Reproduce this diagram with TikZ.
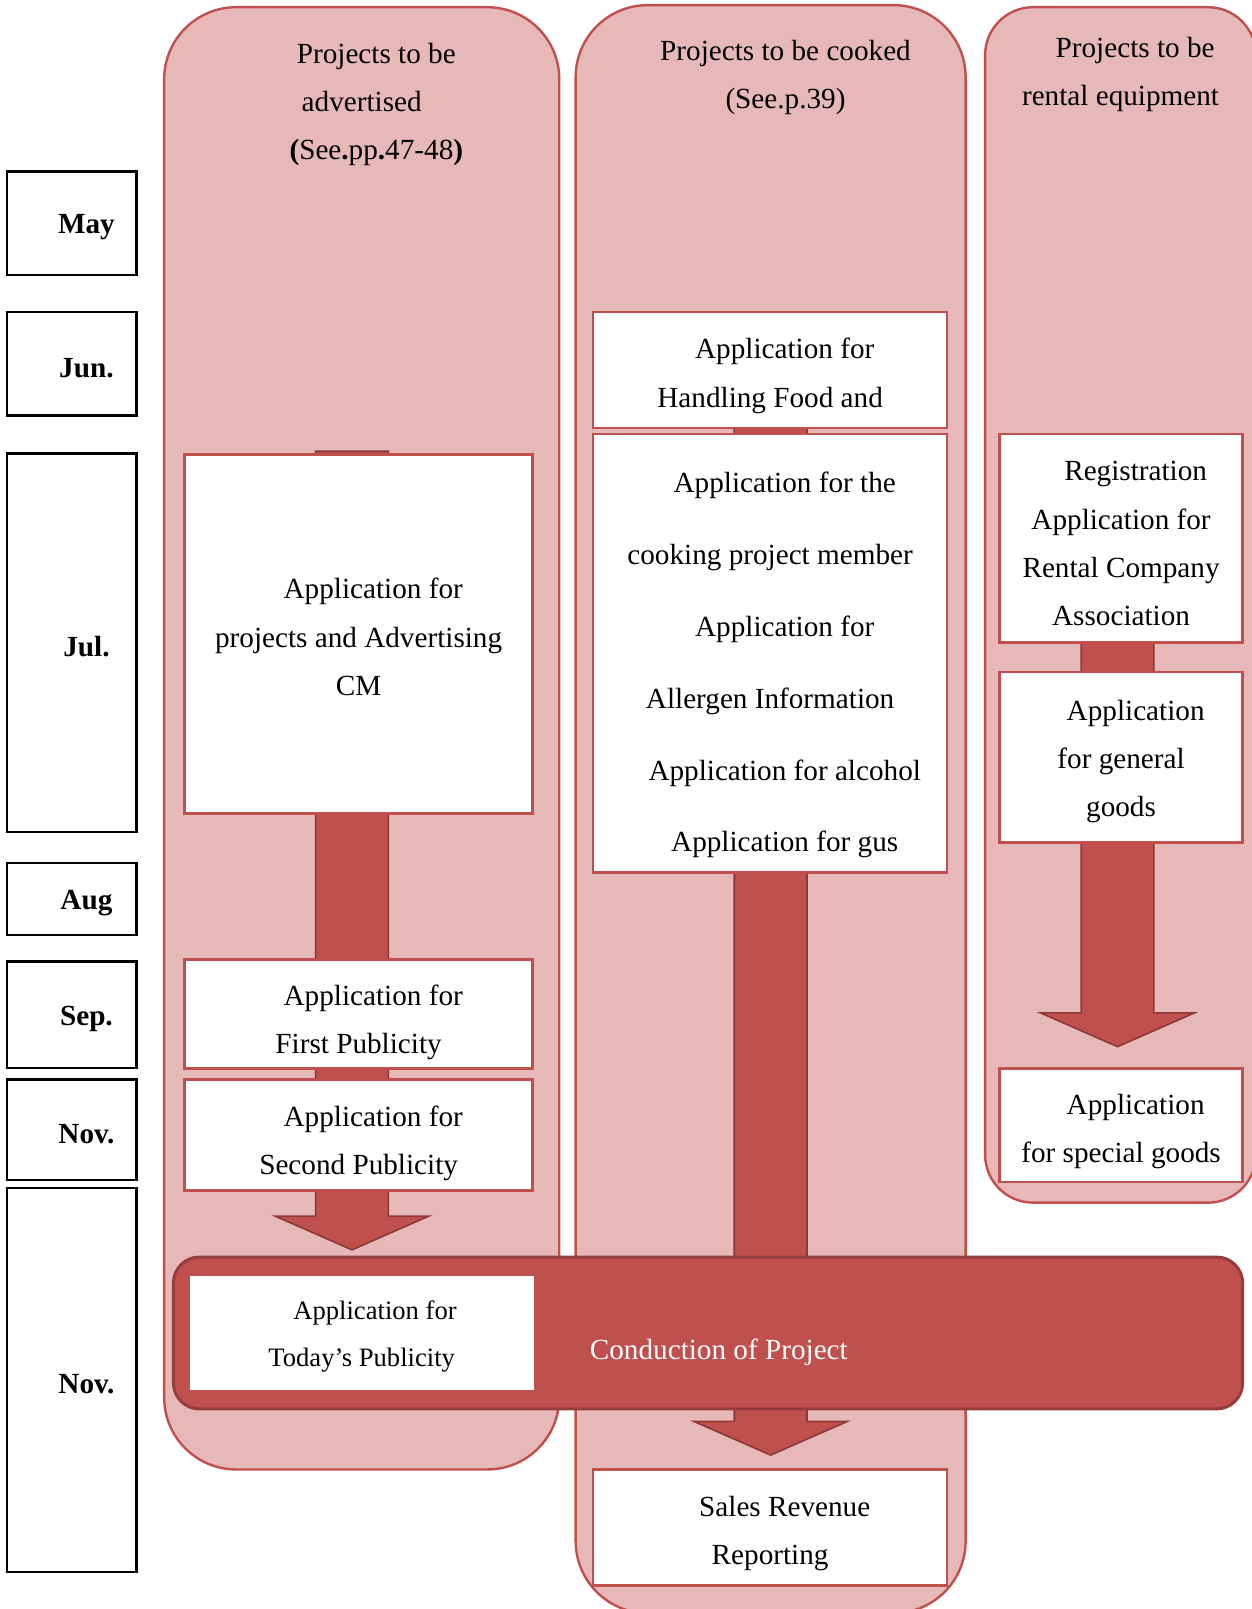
\documentclass[tikz,border=0pt]{standalone}
\usepackage{fontspec}
\setmainfont{Liberation Serif}
\usepackage{tikz}
\usetikzlibrary{positioning, calc, backgrounds}

\definecolor{lanepink}{HTML}{E6B9B8}
\definecolor{darkred}{HTML}{C0504D}
\definecolor{edgered}{HTML}{8C3836}

\newcommand{\bigarrow}[2]{%
  \draw[blockarrow] let \p1=#1, \p2=#2 in
    (\x2-18.2pt,\y1) -- (\x2-18.2pt,\y2+16.9pt) -- (\x2-38.5pt,\y2+16.9pt)
    -- (\x2,\y2) -- (\x2+38.5pt,\y2+16.9pt) -- (\x2+18.2pt,\y2+16.9pt)
    -- (\x2+18.2pt,\y1) -- cycle;}
\newcommand{\firstline}[1]{\rule{0pt}{#1}\hspace*{1em}}

\begin{document}
\begin{tikzpicture}[x=0.5131pt, y=-0.5131pt,
  every node/.style={font=\fontsize{14.6}{24.1}\selectfont},
  size/.style 2 args={minimum width=#1*0.5131pt, minimum height=#2*0.5131pt},
  monthbox/.style={draw=black, line width=1.2pt, fill=white, inner sep=0pt,
    font=\fontsize{14.6}{24.1}\selectfont\bfseries, execute at begin node={\firstline{13.6pt}}},
  appbox/.style={draw=darkred, line width=1.3pt, fill=white, inner sep=0pt, align=center},
  widelines/.style={font=\fontsize{14.6}{35.9}\selectfont},
  headtext/.style={align=center},
  lane/.style={draw=darkred, line width=1.2pt, fill=lanepink},
  blockarrow/.style={draw=edgered, line width=0.8pt, fill=darkred},
  runbar/.style={draw=edgered!80!darkred, line width=1.5pt, fill=darkred, rounded corners=13pt, inner sep=0pt},
  todaybox/.style={fill=white, inner sep=0pt, align=center, font=\fontsize{13.3}{23.6}\selectfont}]

\useasboundingbox (0,0) rectangle (1220,1568);

\node[monthbox, size={126}{101}] (may)    at (70,217.5) {May};
\node[monthbox, size={126}{101}] (jun)    at (70,354.5) {Jun.};
\node[monthbox, size={126}{369}] (jul)    at (70,626.5) {Jul.};
\node[monthbox, size={126}{70}]  (aug)    at (70,876)   {Aug};
\node[monthbox, size={126}{104}] (sep)    at (70,989)   {Sep.};
\node[monthbox, size={126}{98}]  (nov)    at (70,1101)  {Nov.};
\node[monthbox, size={126}{374}] (novend) at (70,1345)  {Nov.};

\node[headtext] (adhead)   at (352.5,102) {\hspace*{1em}Projects to be\\advertised\\\hspace*{1em}\textbf{(}See\textbf{.}pp\textbf{.}47-48\textbf{)}};
\node[headtext] (cookhead) at (765.5,75.5) {Projects to be cooked\\(See.p.39)};
\node[headtext] (renthead) at (1092,72.5) {\hspace*{1em}Projects to be\\rental equipment};

\node[appbox, size={339}{350}] (adcm)   at (349.5,618)  {\firstline{13.1pt}Application for\\projects and Advertising\\CM};
\node[appbox, size={339}{106}] (first)  at (349.5,988)  {\firstline{19.2pt}Application for\\First Publicity};
\node[appbox, size={339}{108}] (second) at (349.5,1106) {\firstline{18.7pt}Application for\\Second Publicity};

\node[appbox, size={345}{113}] (food)   at (750.5,360.5) {\firstline{16.2pt}Application for\\Handling Food and};
\node[appbox, widelines, size={345}{427}] (member) at (750.5,636.5) {\firstline{22.3pt}Application for the\\cooking project member\\\hspace*{1em}Application for\\Allergen Information\\\hspace*{1em}Application for alcohol\\\hspace*{1em}Application for gus};
\node[appbox, size={345}{113}] (sales)  at (750.5,1488.5) {\firstline{16.2pt}Sales Revenue\\Reporting};

\node[appbox, size={237}{203}] (reg)     at (1092.5,524.5)  {\firstline{15.1pt}Registration\\Application for\\Rental Company\\Association};
\node[appbox, size={237}{166}] (general) at (1092.5,738)    {\firstline{14.1pt}Application\\for general\\goods};
\node[appbox, size={237}{111}] (special) at (1092.5,1096.5) {\firstline{16.2pt}Application\\for special goods};

\node[runbar, size={1042}{148}] (conduct) at (690,1299) {};
\node[todaybox, size={335}{112}] (today) at (352.5,1299) {\firstline{13.2pt}Application for\\Today’s Publicity};
\node[anchor=west, text=white] (condtext) at (568,1318) {Conduction of Project};

\coordinate (adtip)   at (343,1218);
\coordinate (cooktip) at (751,1418);
\coordinate (renttip) at (1089,1020);

\begin{pgfonlayer}{background}
\clip (0,0) rectangle (1220,1568);
\draw[lane, rounded corners=36pt] (160,7) rectangle (545,1432);
\draw[lane, rounded corners=36pt] (561,5) rectangle (941,1572);
\draw[lane, rounded corners=24pt] (960,7) rectangle (1224,1172);
\bigarrow{([yshift=1pt]adcm.north)}{(adtip)}
\bigarrow{(food.center)}{(cooktip)}
\bigarrow{(reg.center)}{(renttip)}
\end{pgfonlayer}
\end{tikzpicture}
\end{document}
